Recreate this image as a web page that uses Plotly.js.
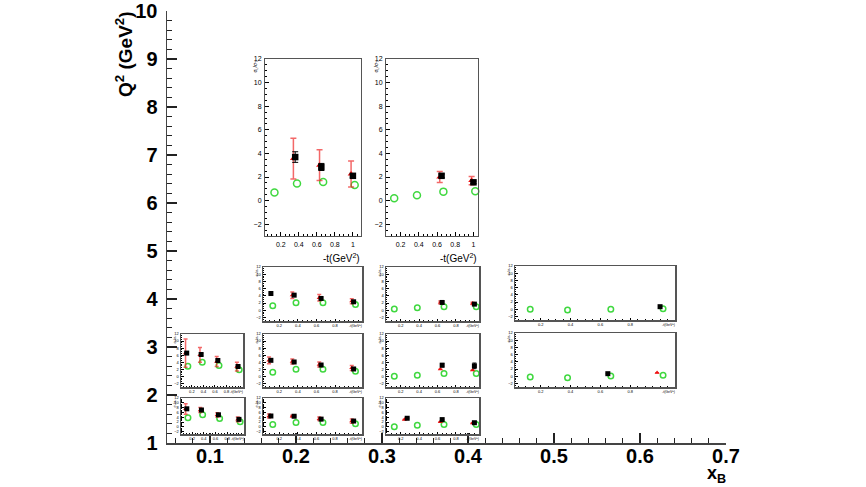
<!DOCTYPE html>
<html>
<head>
<meta charset="utf-8">
<script src="https://cdn.plot.ly/plotly-3.0.1.min.js"></script>
<style>
  html, body { margin: 0; padding: 0; background: #fff; }
  #plotDiv { width: 866px; height: 487px; }
</style>
</head>
<body>
<div id="plotDiv"></div>
<script>
// -t bins (GeV^2)
var tGreen = [0.13, 0.38, 0.67, 1.02];
var tBlack = [0.11, 0.36, 0.65, 1.0];
var tRed = [0.09, 0.34, 0.63, 0.98];
var tBlackC3R3 = [0.11, 0.27, 0.65, 1.0];
var tRedC3R3 = [0.09, 0.24, 0.63, 0.98];

// large pads
var A_black = [null, 3.69, 2.85, 2.10];
var A_blackErr = [0, 0.45, 0.30, 0.15];
var A_red = [null, 3.56, 3.00, 2.25];
var A_redErr = [0, 1.73, 1.30, 1.10];
var A_green = [0.68, 1.44, 1.58, 1.32];

var B_black = [null, null, 2.10, 1.55];
var B_blackErr = [0, 0, 0.15, 0.10];
var B_red = [null, null, 2.00, 1.70];
var B_redErr = [0, 0, 0.47, 0.35];
var B_green = [0.20, 0.45, 0.76, 0.80];

// row 1
var C2R1_black = [4.64, 4.18, 3.26, 2.34];
var C2R1_blackErr = [0.1, 0.15, 0.15, 0.15];
var C2R1_red = [null, 4.18, 3.44, 2.50];
var C2R1_redErr = [0, 0.9, 0.9, 0.7];
var C2R1_green = [1.23, 2.06, 2.06, 1.60];

var C3R1_black = [null, null, 2.15, 1.69];
var C3R1_blackErr = [0, 0, 0.2, 0.2];
var C3R1_red = [null, null, 2.15, 1.88];
var C3R1_redErr = [0, 0, 0.4, 0.3];
var C3R1_green = [0.31, 0.68, 0.96, 0.96];

var C4R1_black = [null, null, null, 0.70];
var C4R1_blackErr = [0, 0, 0, 0.1];
var C4R1_red = [null, null, null, null];
var C4R1_redErr = [0, 0, 0, 0];
var C4R1_green = [0.0, -0.2, 0.0, 0.15];

// row 2
var L2_black = [6.6, 6.2, 4.5, 2.8];
var L2_blackErr = [0.3, 0.3, 0.3, 0.25];
var L2_red = [6.6, 6.1, 4.2, 2.75];
var L2_redErr = [4.0, 2.1, 1.4, 1.25];
var L2_green = [2.9, 4.0, 3.1, 1.87];

var C2R2_black = [4.55, 4.08, 3.22, 2.10];
var C2R2_blackErr = [0.15, 0.15, 0.15, 0.15];
var C2R2_red = [4.55, 4.20, 3.35, 2.40];
var C2R2_redErr = [0.95, 0.7, 0.7, 0.7];
var C2R2_green = [1.15, 2.0, 2.0, 1.48];

var C3R2_black = [null, null, 3.17, 2.98];
var C3R2_blackErr = [0, 0, 0.5, 0.8];
var C3R2_red = [null, null, 2.03, 1.75];
var C3R2_redErr = [0, 0, 0, 0];
var C3R2_green = [0.04, 0.32, 0.80, 0.80];

var C4R2_black = [null, null, 0.70, null];
var C4R2_blackErr = [0, 0, 0.1, 0];
var C4R2_red = [null, null, null, 0.98];
var C4R2_redErr = [0, 0, 0, 0];
var C4R2_green = [-0.2, -0.4, 0.05, 0.24];

// row 3
var L3_black = [7.5, 7.0, 5.0, 3.1];
var L3_blackErr = [0.3, 0.3, 0.3, 0.3];
var L3_red = [7.45, 7.0, 5.0, 3.1];
var L3_redErr = [2.2, 1.0, 0.9, 1.0];
var L3_green = [3.8, 5.0, 3.5, 2.1];

var C2R3_black = [4.5, 4.4, 3.2, 2.4];
var C2R3_blackErr = [0.2, 0.2, 0.2, 0.2];
var C2R3_red = [4.5, 4.4, 3.35, 2.4];
var C2R3_redErr = [0.8, 0.4, 0.7, 0.9];
var C2R3_green = [1.0, 1.8, 1.8, 1.3];

var C3R3_black = [null, 3.56, 3.0, 1.7];
var C3R3_blackErr = [0, 0.2, 0.2, 0.2];
var C3R3_red = [null, 3.0, 2.1, 1.55];
var C3R3_redErr = [0, 0, 0, 0];
var C3R3_green = [0.0, 0.6, 1.0, 1.0];

var xbTicks = [0.1, 0.2, 0.3, 0.4, 0.5, 0.6, 0.7];
var q2Ticks = [1, 2, 3, 4, 5, 6, 7, 8, 9, 10];

var W = 866, H = 487;
function px(a, b) { return [a / W, b / W]; }
function py(top, bot) { return [1 - bot / H, 1 - top / H]; }

// pad geometry in pixels: left, right, top, bottom of the frame
var pads = [
  {box: [265, 361, 59, 236], xr: [0.025, 1.09], big: true, black: A_black, be: A_blackErr, red: A_red, re: A_redErr, green: A_green},
  {box: [386, 478, 59, 236], xr: [0.04, 1.05], big: true, black: B_black, be: B_blackErr, red: B_red, re: B_redErr, green: B_green},
  {box: [263, 362, 267, 321], xr: [0.025, 1.09], black: C2R1_black, be: C2R1_blackErr, red: C2R1_red, re: C2R1_redErr, green: C2R1_green},
  {box: [386, 479, 267, 321], xr: [0.04, 1.05], black: C3R1_black, be: C3R1_blackErr, red: C3R1_red, re: C3R1_redErr, green: C3R1_green},
  {box: [515, 675, 266, 320], xr: [0.028, 1.1], black: C4R1_black, be: C4R1_blackErr, red: C4R1_red, re: C4R1_redErr, green: C4R1_green},
  {box: [181, 243, 334, 387], xr: [0.011, 1.086], black: L2_black, be: L2_blackErr, red: L2_red, re: L2_redErr, green: L2_green},
  {box: [263, 362, 334, 387], xr: [0.025, 1.09], black: C2R2_black, be: C2R2_blackErr, red: C2R2_red, re: C2R2_redErr, green: C2R2_green},
  {box: [386, 479, 334, 387], xr: [0.04, 1.05], black: C3R2_black, be: C3R2_blackErr, red: C3R2_red, re: C3R2_redErr, green: C3R2_green},
  {box: [515, 675, 333, 387], xr: [0.028, 1.1], black: C4R2_black, be: C4R2_blackErr, red: C4R2_red, re: C4R2_redErr, green: C4R2_green},
  {box: [181, 244, 398, 434], xr: [0.011, 1.086], black: L3_black, be: L3_blackErr, red: L3_red, re: L3_redErr, green: L3_green},
  {box: [263, 362, 398, 434], xr: [0.025, 1.09], black: C2R3_black, be: C2R3_blackErr, red: C2R3_red, re: C2R3_redErr, green: C2R3_green},
  {box: [386, 479, 398, 434], xr: [0.04, 1.05], tb: tBlackC3R3, tr: tRedC3R3, black: C3R3_black, be: C3R3_blackErr, red: C3R3_red, re: C3R3_redErr, green: C3R3_green}
];

var font = 'Liberation Sans, Arial, sans-serif';

// an empty trace so that the main xB / Q^2 frame gets drawn
var data = [{
  type: 'scatter', mode: 'markers', x: [null], y: [null], xaxis: 'x', yaxis: 'y',
  marker: {size: 1, color: 'rgba(0,0,0,0)'}
}];

var layout = {
  width: W, height: H,
  margin: {l: 0, r: 0, t: 0, b: 0},
  paper_bgcolor: '#fff', plot_bgcolor: 'rgba(0,0,0,0)',
  showlegend: false,
  xaxis: {
    domain: px(167, 726), range: [0.05, 0.7], anchor: 'y',
    showline: true, linecolor: '#444', linewidth: 1.5,
    tickvals: xbTicks, ticktext: xbTicks.map(function (v) { return v.toFixed(1); }),
    ticks: 'inside', ticklen: 10, tickcolor: '#222', tickwidth: 1.2,
    minor: {dtick: 0.02, tick0: 0, ticks: 'inside', ticklen: 5, tickcolor: '#222'},
    showgrid: false, zeroline: false, ticklabelstandoff: -6,
    tickfont: {family: font, size: 20, weight: 'bold', color: '#000'}
  },
  yaxis: {
    domain: py(11, 443), range: [1, 10], anchor: 'x',
    showline: true, linecolor: '#444', linewidth: 1.5,
    tickvals: q2Ticks, ticks: 'inside', ticklen: 10, tickcolor: '#222', tickwidth: 1.2,
    minor: {dtick: 0.2, tick0: 0, ticks: 'inside', ticklen: 5, tickcolor: '#222'},
    showgrid: false, zeroline: false, ticklabelstandoff: 4,
    tickfont: {family: font, size: 20, weight: 'bold', color: '#000'}
  },
  annotations: [
    {text: 'Q<sup>2</sup> (GeV<sup>2</sup>)', textangle: -90, xref: 'paper', yref: 'paper',
     x: 124 / W, y: 1 - 9 / H, xanchor: 'center', yanchor: 'top', showarrow: false,
     font: {family: font, size: 19, weight: 'bold', color: '#000'}},
    {text: 'x<sub>B</sub>', xref: 'paper', yref: 'paper',
     x: 728 / W, y: 1 - 474 / H, xanchor: 'right', yanchor: 'middle', showarrow: false,
     font: {family: font, size: 18, weight: 'bold', color: '#000'}}
  ]
};

pads.forEach(function (p, i) {
  var n = i + 2;
  var xa = 'x' + n, ya = 'y' + n;
  var big = !!p.big;
  var tb = p.tb || tBlack, tr = p.tr || tRed;
  var tf = {family: font, size: big ? 7 : 4, color: '#000'};

  layout['xaxis' + n] = {
    domain: px(p.box[0], p.box[1]), range: p.xr, anchor: ya,
    showline: true, mirror: true, linecolor: '#555', linewidth: big ? 1 : 1.5,
    tickvals: big ? [0.2, 0.4, 0.6, 0.8, 1] : [0.2, 0.4, 0.6, 0.8],
    ticktext: big ? ['0.2', '0.4', '0.6', '0.8', '1'] : ['0.2', '0.4', '0.6', '0.8'],
    ticks: 'inside', ticklen: big ? 4 : 2.5, tickcolor: '#000', tickwidth: 1,
    minor: {dtick: 0.05, tick0: 0, ticks: 'inside', ticklen: big ? 2 : 1.2, tickcolor: '#000'},
    showgrid: false, zeroline: false, ticklabelstandoff: big ? 2 : 0, tickfont: tf
  };
  layout['yaxis' + n] = {
    domain: py(p.box[2], p.box[3]), range: [-3, 12], anchor: xa,
    showline: true, mirror: true, linecolor: '#555', linewidth: big ? 1 : 1.5,
    tickvals: [-2, 0, 2, 4, 6, 8, 10, 12],
    ticks: 'inside', ticklen: big ? 4 : 2.5, tickcolor: '#000', tickwidth: 1,
    minor: {dtick: 0.5, tick0: 0, ticks: 'inside', ticklen: big ? 2 : 1.2, tickcolor: '#000'},
    showgrid: false, zeroline: false, ticklabelstandoff: big ? 1 : 0, tickfont: tf
  };

  data.push({
    type: 'scatter', mode: 'markers', x: tGreen, y: p.green, xaxis: xa, yaxis: ya,
    marker: {symbol: 'circle-open', size: big ? 7 : 5.5, color: '#3fd83f', line: {width: 1.5, color: '#3fd83f'}},
    cliponaxis: false
  });
  data.push({
    type: 'scatter', mode: 'markers', x: tr, y: p.red, xaxis: xa, yaxis: ya,
    marker: {symbol: 'triangle-up', size: big ? 6 : 4.5, color: '#ee1111'},
    error_y: {type: 'data', array: p.re, visible: true, color: 'rgba(238,40,40,0.7)', thickness: 1.5, width: big ? 3 : 2}
  });
  data.push({
    type: 'scatter', mode: 'markers', x: tb, y: p.black, xaxis: xa, yaxis: ya,
    marker: {symbol: 'square', size: big ? 6.5 : 5, color: '#000'},
    error_y: {type: 'data', array: p.be, visible: true, color: '#000', thickness: 1, width: big ? 3 : 2}
  });

  // axis titles of the pad
  layout.annotations.push({
    text: '-t(GeV<sup>2</sup>)', xref: 'paper', yref: 'paper',
    x: (p.box[1] + (big ? 1 : 2)) / W, y: 1 - (p.box[3] + (big ? 22 : 5)) / H,
    xanchor: 'right', yanchor: 'middle', showarrow: false,
    font: {family: font, size: big ? 10 : 3.5, color: '#000'}
  });
  layout.annotations.push({
    text: '\u03c3<sub>L</sub>/\u03c3<sub>T</sub>', textangle: -90, xref: 'paper', yref: 'paper',
    x: (p.box[0] - (big ? 10 : 6)) / W, y: 1 - (p.box[2] - 1) / H,
    xanchor: 'center', yanchor: 'top', showarrow: false,
    font: {family: font, size: big ? 5 : 3.5, color: '#000'}
  });
});

Plotly.newPlot('plotDiv', data, layout, {staticPlot: true, displayModeBar: false});
</script>
</body>
</html>
